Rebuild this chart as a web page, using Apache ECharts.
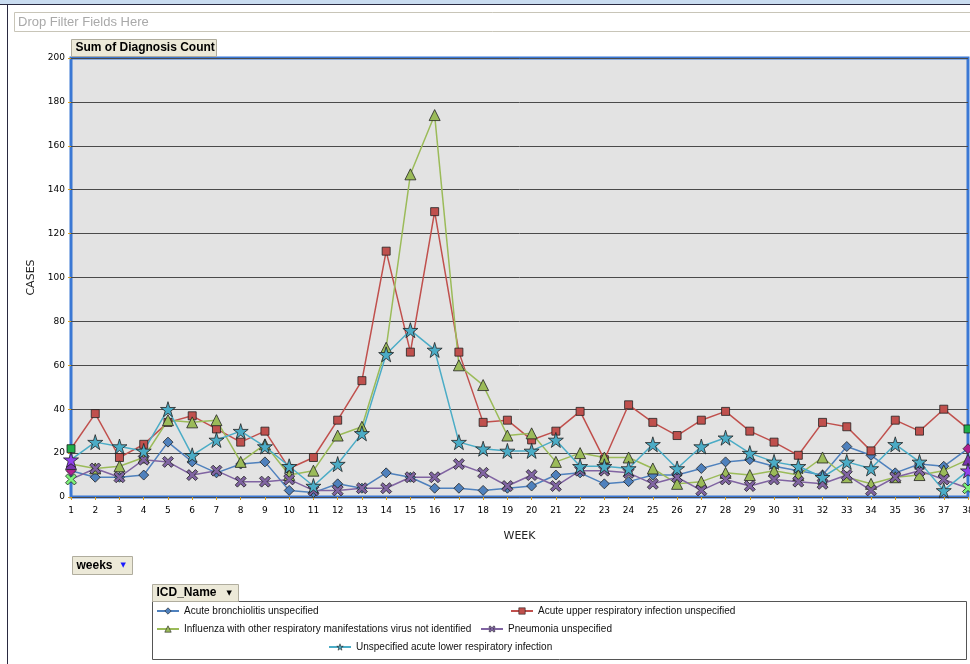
<!DOCTYPE html>
<html>
<head>
<meta charset="utf-8">
<title>Sum of Diagnosis Count</title>
<script src="https://cdn.jsdelivr.net/npm/echarts@6/dist/echarts.min.js"></script>
<style>
	html, body { margin: 0; padding: 0; background: #fff; }
	#chart { width: 970px; height: 664px; }
</style>
</head>
<body>
<div id="chart"></div>
<script>
// 周次
var weeks = ['1', '2', '3', '4', '5', '6', '7', '8', '9', '10', '11', '12', '13', '14', '15', '16', '17', '18', '19',
	'20', '21', '22', '23', '24', '25', '26', '27', '28', '29', '30', '31', '32', '33', '34', '35', '36', '37', '38'];
// 各诊断每周病例数
var bronchiolitis = [12, 9, 9, 10, 25, 16, 11, 15, 16, 3, 2, 6, 4, 11, 9, 4, 4, 3, 4,
	5, 10, 11, 6, 7, 10, 10, 13, 16, 17, 14, 12, 10, 23, 19, 11, 15, 14, 22];
var upperResp = [22, 38, 18, 24, 34, 37, 31, 25, 30, 13, 18, 35, 53, 112, 66, 130, 66, 34, 35,
	26, 30, 39, 17, 42, 34, 28, 35, 39, 30, 25, 19, 34, 32, 21, 35, 30, 40, 31];
var influenza = [15, 13, 14, 18, 35, 34, 35, 16, 24, 10, 12, 28, 32, 68, 147, 174, 60, 51, 28,
	29, 16, 20, 18, 18, 13, 6, 7, 11, 10, 12, 10, 18, 9, 6, 9, 10, 12, 17];
var pneumonia = [8, 13, 9, 17, 16, 10, 12, 7, 7, 8, 3, 3, 4, 4, 9, 9, 15, 11, 5,
	10, 5, 12, 12, 11, 6, 9, 3, 8, 5, 8, 7, 6, 10, 3, 9, 12, 8, 4];
var lowerResp = [17, 25, 23, 21, 40, 19, 26, 30, 23, 14, 5, 15, 29, 65, 76, 67, 25, 22, 21,
	21, 26, 14, 14, 13, 24, 13, 23, 27, 20, 16, 14, 9, 16, 13, 24, 16, 3, 12];
var yTicks = [0, 20, 40, 60, 80, 100, 120, 140, 160, 180, 200];

var names = [
	'Acute bronchiolitis unspecified',
	'Acute upper respiratory infection unspecified',
	'Influenza with other respiratory manifestations virus not identified',
	'Pneumonia unspecified',
	'Unspecified acute lower respiratory infection'
];
var colors = ['#4F81BD', '#C0504D', '#9BBB59', '#8064A2', '#4BACC6'];

var chart = echarts.init(document.getElementById('chart'));

var starPath = 'path://M50,0 L61,35 L98,35 L68,57 L79,91 L50,70 L21,91 L32,57 L2,35 L39,35 Z';
var crossPath = 'path://M0,2 L2,0 L5,3 L8,0 L10,2 L7,5 L10,8 L8,10 L5,7 L2,10 L0,8 L3,5 Z';

// 首尾两个点的标记颜色与系列不同（原图如此）
function _endData(values, endColor) {
	return values.map(function (v, i) {
		if (i === 0 || i === values.length - 1) {
			return { value: v, itemStyle: { color: endColor } };
		}
		return v;
	});
}

function _line(name, values, color, endColor, symbol, size) {
	return {
		name: name,
		type: 'line',
		data: _endData(values, endColor),
		symbol: symbol,
		symbolSize: size,
		showAllSymbol: true,
		lineStyle: { color: color, width: 1.5 },
		itemStyle: { color: color, borderColor: '#222', borderWidth: 0.8 },
		emphasis: { disabled: true }
	};
}

// 图例（分散放置）
function _legend(idx, left, top) {
	return {
		data: [{ name: names[idx], itemStyle: { color: colors[idx], borderColor: '#222', borderWidth: 0.6 } }],
		left: left,
		top: top,
		itemWidth: 22,
		itemHeight: 8,
		itemGap: 4,
		padding: 0,
		selectedMode: false,
		textStyle: { fontSize: 10, color: '#111', fontFamily: 'Liberation Sans, Arial, sans-serif' }
	};
}

function _button(x, y, w, h, label, arrowColor) {
	var els = [{
		type: 'rect',
		shape: { x: x, y: y, width: w, height: h },
		style: { fill: '#ECE9D8', stroke: '#b0ad9e', lineWidth: 1 }
	}, {
		type: 'text',
		x: x + 4,
		y: y + h / 2,
		style: { text: label, fill: '#000', font: 'bold 12px Liberation Sans, Arial, sans-serif', verticalAlign: 'middle' }
	}];
	if (arrowColor) {
		els.push({
			type: 'text',
			x: x + w - 12,
			y: y + h / 2,
			style: { text: '▼', fill: arrowColor, font: '7px DejaVu Sans, sans-serif', verticalAlign: 'middle' }
		});
	}
	return els;
}

var graphics = [
	{ type: 'rect', shape: { x: 0, y: 0, width: 970, height: 4 }, style: { fill: '#c9dcf0' } },
	{ type: 'line', shape: { x1: 0, y1: 4.5, x2: 970, y2: 4.5 }, style: { stroke: '#2a2a40', lineWidth: 1 } },
	{ type: 'line', shape: { x1: 7.5, y1: 4, x2: 7.5, y2: 664 }, style: { stroke: '#2a2a40', lineWidth: 1 } },
	{
		type: 'rect', shape: { x: 14.5, y: 12.5, width: 960, height: 19 },
		style: { fill: '#fff', stroke: '#c8c5b8', lineWidth: 1 }
	},
	{
		type: 'text', x: 18, y: 22,
		style: { text: 'Drop Filter Fields Here', fill: '#a9a9a9', font: '13px Liberation Sans, Arial, sans-serif', verticalAlign: 'middle' }
	},
	{
		type: 'rect', z: -1, shape: { x: 152.5, y: 601.5, width: 814, height: 58 },
		style: { fill: '#fff', stroke: '#555', lineWidth: 1 }
	}
];
graphics = graphics
	.concat(_button(71.5, 39.5, 145, 17, 'Sum of Diagnosis Count'))
	.concat(_button(72.5, 556.5, 60, 18, 'weeks', '#1a1aff'))
	.concat(_button(152.5, 584.5, 86, 17, 'ICD_Name', '#000'));

var option = {
	animation: false,
	backgroundColor: '#fff',
	graphic: graphics,
	legend: [
		_legend(0, 156, 606),
		_legend(1, 510, 606),
		_legend(2, 156, 624),
		_legend(3, 480, 624),
		_legend(4, 328, 642)
	],
	grid: {
		left: 71,
		right: 2,
		top: 58,
		bottom: 167,
		outerBoundsMode: 'none',
		containLabel: false,
		show: true,
		backgroundColor: '#e3e3e3',
		borderColor: '#3b78d4',
		borderWidth: 3
	},
	xAxis: {
		type: 'category',
		data: weeks,
		boundaryGap: false,
		name: 'WEEK',
		nameLocation: 'middle',
		nameGap: 34,
		nameTextStyle: { fontSize: 11, color: '#222', fontFamily: 'DejaVu Sans, sans-serif' },
		axisLine: { show: false },
		axisTick: { show: true, length: 3, lineStyle: { color: '#d9a020' } },
		axisLabel: { interval: 0, fontSize: 9, color: '#000', margin: 9, fontFamily: 'DejaVu Sans, sans-serif' },
		splitLine: { show: false }
	},
	yAxis: {
		type: 'value',
		min: yTicks[0],
		max: yTicks[yTicks.length - 1],
		interval: yTicks[1] - yTicks[0],
		name: 'CASES',
		nameLocation: 'middle',
		nameGap: 34,
		nameTextStyle: { fontSize: 11, color: '#222', fontFamily: 'DejaVu Sans, sans-serif' },
		axisLine: { show: false },
		axisTick: { show: true, length: 3, lineStyle: { color: '#d9a020' } },
		axisLabel: { fontSize: 9, color: '#000', margin: 6, fontFamily: 'DejaVu Sans, sans-serif' },
		splitLine: { show: true, lineStyle: { color: '#4a4a4a', width: 1 } }
	},
	series: [
		_line(names[0], bronchiolitis, colors[0], '#b0208f', 'diamond', 10),
		_line(names[1], upperResp, colors[1], '#1fae4a', 'rect', 8),
		_line(names[2], influenza, colors[2], '#7a35b0', 'triangle', 11),
		_line(names[3], pneumonia, colors[3], '#7cf37a', crossPath, 11),
		_line(names[4], lowerResp, colors[4], '#9140ee', starPath, 15)
	]
};

chart.setOption(option);
</script>
</body>
</html>
